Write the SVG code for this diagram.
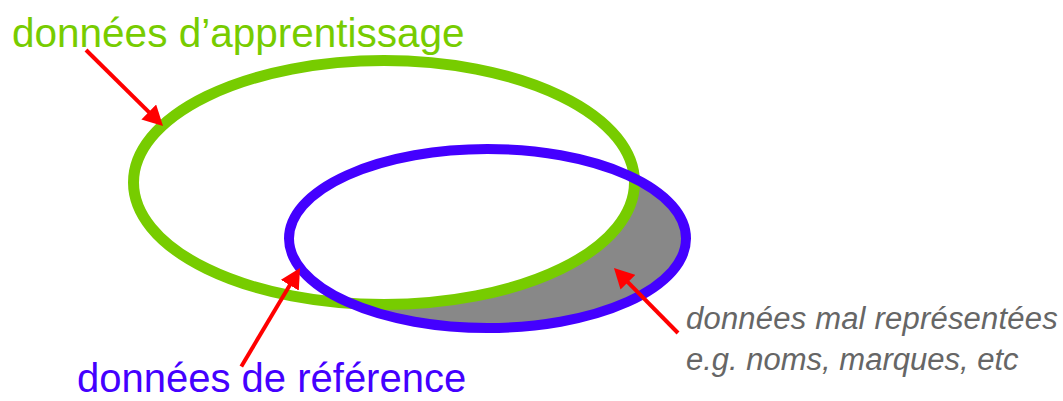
<svg xmlns="http://www.w3.org/2000/svg" width="1063" height="401" viewBox="0 0 1063 401">
  <style>
    .lbl { font-family: "Liberation Sans", Arial, Helvetica, sans-serif; }
    .big { font-size: 40.5px; }
    .note { font-size: 31px; font-style: italic; fill: #666666; }
    .arrow { stroke: #FF0000; stroke-width: 4; fill: none; marker-end: url(#head); }
  </style>
  <defs>
    <marker id="head" viewBox="0 0 20 21" refX="2" refY="10.5" markerWidth="20" markerHeight="21" markerUnits="userSpaceOnUse" orient="auto">
      <path d="M0,0 L20,10.5 L0,21 Z" fill="#FF0000"/>
    </marker>
  </defs>
  <rect width="1063" height="401" fill="#FFFFFF"/>

  <g id="misrepresented-region">
    <ellipse cx="487.5" cy="238.5" rx="198.5" ry="89.5" fill="#888888"/>
    <ellipse cx="384" cy="182.5" rx="250.5" ry="122" fill="#FFFFFF"/>
  </g>

  <g id="training-data">
    <ellipse cx="384" cy="182.5" rx="250.5" ry="122" fill="none" stroke="#77CC00" stroke-width="11"/>
    <text class="lbl big" x="12" y="47" fill="#77CC00">données d’apprentissage</text>
  </g>

  <g id="reference-data">
    <ellipse cx="487.5" cy="238.5" rx="198.5" ry="89.5" fill="none" stroke="#4400FF" stroke-width="10"/>
    <text class="lbl big" x="77" y="392" fill="#4400FF" style="font-size:40px">données de référence</text>
  </g>

  <g id="misrepresented-label">
    <text class="lbl note" x="686" y="329" letter-spacing="0.2">données mal représentées</text>
    <text class="lbl note" x="686" y="370">e.g. noms, marques, etc</text>
  </g>

  <g id="connectors">
    <line class="arrow" x1="86" y1="50" x2="150.2" y2="113.4"/>
    <line class="arrow" x1="241.3" y1="366.5" x2="290.8" y2="283.5"/>
    <line class="arrow" x1="678" y1="333" x2="626.6" y2="280.8"/>
  </g>
</svg>
